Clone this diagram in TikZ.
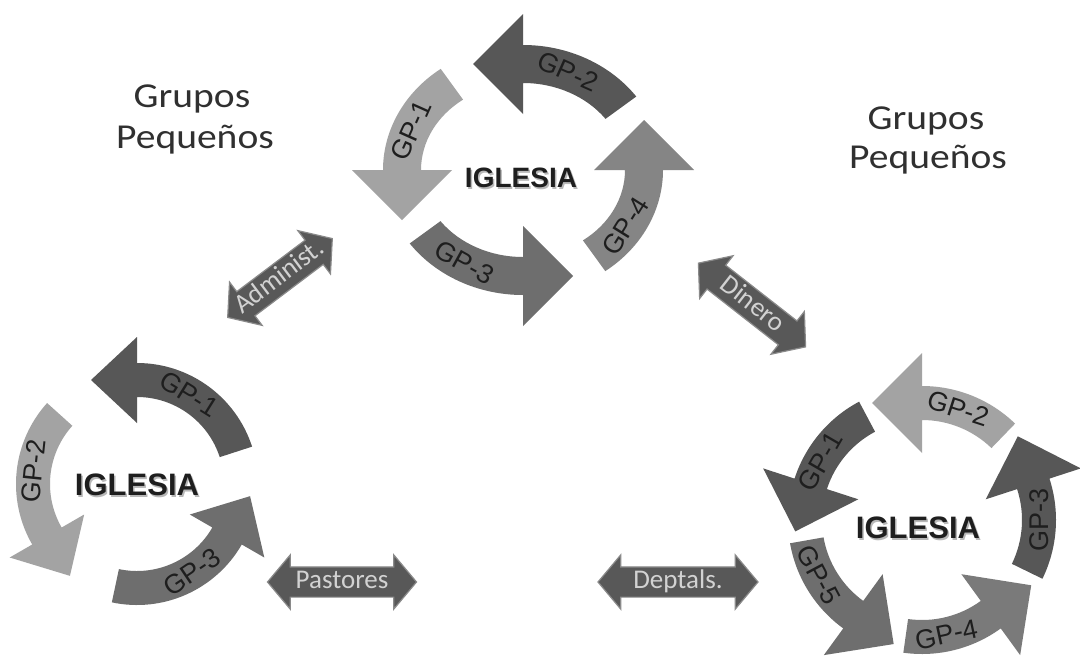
\documentclass[tikz,border=0pt]{standalone}
\usepackage{fontspec}
\setmainfont{Liberation Sans}
\newfontfamily\calfont{Carlito}
\usetikzlibrary{calc,shapes.arrows}
\definecolor{gdark}{HTML}{575757}
\definecolor{glight}{HTML}{A3A3A3}
\definecolor{gmed}{HTML}{6E6E6E}
\definecolor{gmedl}{HTML}{858585}
\definecolor{gmedm}{HTML}{7A7A7A}
\definecolor{txtdark}{HTML}{1E1E1E}
\definecolor{grptxt}{HTML}{303030}
\definecolor{dbfill}{HTML}{585858}
\definecolor{dbedge}{HTML}{8A8A8A}
\definecolor{dbtext}{HTML}{D2D2D2}
\definecolor{shadowc}{HTML}{B8B8B8}
\newcommand\setcycle[5]{\def\crx{#1}\def\cry{#2}\def\cw{#3}\def\cH{#4}\def\cL{#5}}
\newcommand\cyarrow[4]{%
  \pgfmathsetmacro\rox{\crx+\cw}\pgfmathsetmacro\roy{\cry+\cw}%
  \pgfmathsetmacro\rix{\crx-\cw}\pgfmathsetmacro\riy{\cry-\cw}%
  \pgfmathsetmacro\hox{\crx+\cH}\pgfmathsetmacro\hoy{\cry+\cH}%
  \pgfmathsetmacro\hix{\crx-\cH}\pgfmathsetmacro\hiy{\cry-\cH}%
  \pgfmathsetmacro\tipang{#3-90}%
  \fill[#4] ($(#1)+(#2:{\rox} and {\roy})$)
    arc[start angle=#2, end angle=#3, x radius=\rox, y radius=\roy]
    -- ($(#1)+(#3:{\hox} and {\hoy})$)
    -- ($(#1)+(#3:{\crx} and {\cry})+(\tipang:\cL)$)
    -- ($(#1)+(#3:{\hix} and {\hiy})$)
    -- ($(#1)+(#3:{\rix} and {\riy})$)
    arc[start angle=#3, end angle=#2, x radius=\rix, y radius=\riy]
    -- cycle;}
\newcommand\cylabel[5]{%
  \node[gplab, rotate=#4] (#1) at ($(#2)+(#3:{\crx} and {\cry})$) {#5};}
\tikzset{
  gplab/.style={text=txtdark, font=\fontsize{27}{27}\selectfont, inner sep=0pt},
  igl/.style={text=txtdark, font=\bfseries\fontsize{#1}{#1}\selectfont, inner sep=0pt},
  iglsh/.style={text=shadowc, font=\bfseries\fontsize{#1}{#1}\selectfont, inner sep=0pt},
  grp/.style={text=grptxt, font=\calfont\fontsize{35}{35}\selectfont, inner sep=0pt, anchor=base, xscale=1.13},
  dbl/.style={double arrow, draw=dbedge, line width=1.2pt, fill=dbfill, text=dbtext,
    font=\calfont\fontsize{27}{27}\selectfont, double arrow head extend=12pt,
    double arrow tip angle=100, inner xsep=-6pt, inner ysep=3pt, text height=18pt,
    text depth=5pt, minimum height=#1}
}
\begin{document}
\begin{tikzpicture}[x=1pt,y=-1pt]
\useasboundingbox (0,0) rectangle (1080,659);
\fill[white] (0,0) rectangle (1080,659);

% ---- titles
\node[grp] (gl1) at (192,107) {Grupos};
\node[grp] (gl2) at (195,148) {Pequeños};
\node[grp] (gr1) at (926,129) {Grupos};
\node[grp] (gr2) at (928,168) {Pequeños};

% ---- top cycle
\coordinate (ct) at (523,170);
\setcycle{121}{106}{19}{50}{50}
\cyarrow{ct}{-36}{-90}{gdark}
\cyarrow{ct}{-126}{-180}{glight}
\cyarrow{ct}{144}{90}{gmed}
\cyarrow{ct}{54}{0}{gmedl}
\cylabel{t2}{ct}{-68}{-24}{GP-2}
\cylabel{t1}{ct}{-158}{66}{GP-1}
\cylabel{t3}{ct}{119}{-29}{GP-3}
\cylabel{t4}{ct}{32}{58}{GP-4}
\node[iglsh=28] (its) at (522.5,179.5) {IGLESIA};
\node[igl=28] (it) at (521,178) {IGLESIA};

% ---- left cycle
\coordinate (cl) at (137,484);
\setcycle{104}{104}{17}{43}{46}
\cyarrow{cl}{-18}{-90}{gdark}
\cyarrow{cl}{222}{150}{glight}
\cyarrow{cl}{102}{30}{gmed}
\cylabel{l1}{cl}{-60}{-32}{GP-1}
\cylabel{l2}{cl}{-173}{84}{GP-2}
\cylabel{l3}{cl}{58}{34}{GP-3}
\node[iglsh=31] (ils) at (138.5,486.5) {IGLESIA};
\node[igl=31] (il) at (137,485) {IGLESIA};

% ---- right cycle
\coordinate (cr) at (922,520);
\setcycle{117}{117}{17}{50}{50}
\cyarrow{cr}{-46}{-90}{glight}
\cyarrow{cr}{-118}{-162}{gdark}
\cyarrow{cr}{170}{126}{gmed}
\cyarrow{cr}{98}{54}{gmedm}
\cyarrow{cr}{26}{-18}{gdark}
\cylabel{r2}{cr}{-72}{-18}{GP-2}
\cylabel{r1}{cr}{-150}{60}{GP-1}
\cylabel{r5}{cr}{152}{-62}{GP-5}
\cylabel{r4}{cr}{78}{12}{GP-4}
\cylabel{r3}{cr}{0}{90}{GP-3}
\node[iglsh=31] (irs) at (919.5,529.5) {IGLESIA};
\node[igl=31] (ir) at (918,528) {IGLESIA};

% ---- double arrows
\node[dbl=131, rotate=37] (adm) at (280,278) {Administ.};
\node[dbl=136, rotate=-38] (din) at (752,305) {Dinero};
\node[dbl=149] (pas) at (342,582) {Pastores};
\node[dbl=160] (dep) at (678,582) {Deptals.};
\end{tikzpicture}
\end{document}
